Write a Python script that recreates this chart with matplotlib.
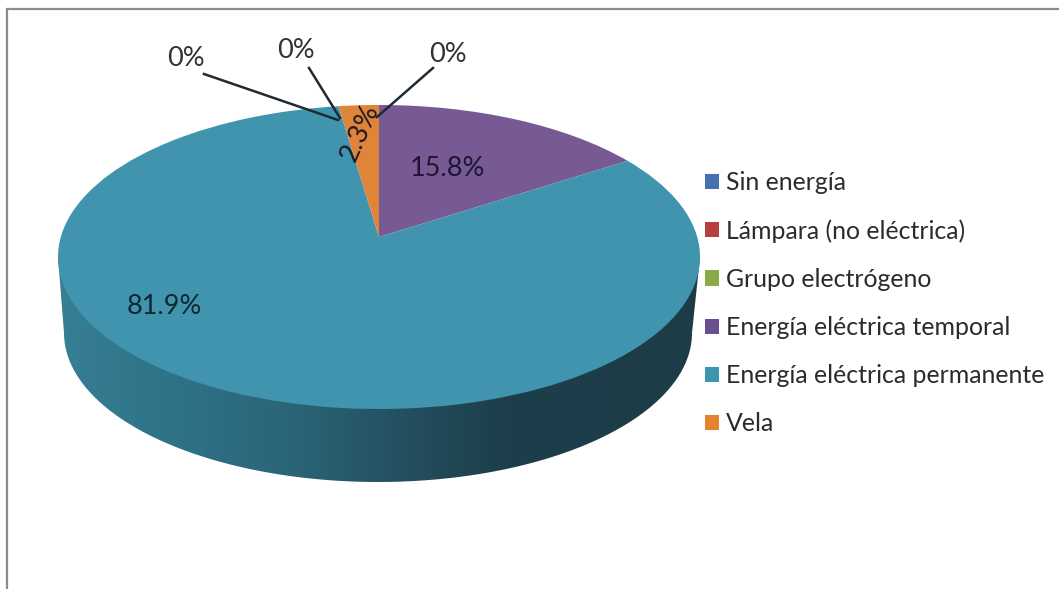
import numpy as np
import matplotlib
matplotlib.use("Agg")
import matplotlib.pyplot as plt
from matplotlib.colors import LinearSegmentedColormap
from matplotlib.patches import PathPatch
from matplotlib.path import Path
from matplotlib.transforms import Transform

categories = ["Sin energía", "Lámpara (no eléctrica)", "Grupo electrógeno",
              "Energía eléctrica temporal", "Energía eléctrica permanente", "Vela"]
values = [0, 0, 0, 15.8, 81.9, 2.3]
colors = ["#4472B0", "#B5403C", "#8AAA45", "#775A94", "#4094AE", "#E0843A"]
legend_colors = ["#4472B0", "#B5403C", "#8AAA45", "#6A4F8F", "#3B97AE", "#E5842F"]
value_labels = ["15.8%", "81.9%", "2.3%"]
zero_labels = ["0%", "0%", "0%"]

plt.rcParams["font.family"] = ["Lato", "DejaVu Sans"]

W, H = 1059, 589
fig = plt.figure(figsize=(W / 100, H / 100), dpi=100, facecolor="white")
ax = fig.add_axes([0, 0, 1, 1])


class Perspective(Transform):
    """Tilted-disc projection from the pie's unit circle to the canvas."""
    input_dims = 2
    output_dims = 2
    is_separable = False
    has_inverse = False

    def __init__(self, cx, cy, a, b, k):
        super().__init__()
        self.cx, self.cy, self.a, self.b, self.k = cx, cy, a, b, k

    def transform_non_affine(self, values):
        xy = np.asarray(values, dtype=float)
        w = 1 + self.k * xy[:, 1]
        return np.column_stack((self.cx + self.a * xy[:, 0] / w,
                                self.cy - self.b * xy[:, 1] / w))


proj = Perspective(379, 237, 318.2, 149.4, 0.1316)

wedges, _ = ax.pie(values, colors=colors, startangle=90, counterclock=False,
                   wedgeprops={"linewidth": 0})
for w in wedges:
    w.set_transform(proj + ax.transData)
    w.set_zorder(3)

# side wall of the disc, shaded left to right
t = np.linspace(np.pi, 0, 200)
bx = 378 + 314 * np.cos(t)
by = 333 + 149 * np.sin(t)
sx = np.r_[58, bx, 700]
sy = np.r_[257, by, 257]
wall = PathPatch(Path(np.column_stack((sx, sy))), transform=ax.transData,
                 facecolor="none", edgecolor="none")
ax.add_patch(wall)
cmap = LinearSegmentedColormap.from_list(
    "wall",
    [(0.0, "#377F95"), (0.13, "#30768B"), (0.36, "#2B6578"),
     (0.55, "#234E5E"), (0.70, "#1D3E4B"), (1.0, "#1C3C47")])
img = ax.imshow(np.linspace(0, 1, 256)[None, :], cmap=cmap, aspect="auto",
                extent=(58, 700, 482, 257), zorder=2, interpolation="bilinear")
img.set_clip_path(wall)

ax.set_aspect("auto")
ax.set_xlim(0, W)
ax.set_ylim(H, 0)
ax.axis("off")

# frame of the chart area (open at right and bottom)
ax.plot([6.5, 6.5, W], [H, 8.5, 8.5], color="#8C8C8C", lw=1.6,
        solid_joinstyle="miter", zorder=1)

# data labels
fs = 19.5
ax.text(447, 169, value_labels[0], ha="center", va="center", fontsize=fs,
        color="#1E1433", zorder=6)
ax.text(164, 306, value_labels[1], ha="center", va="center", fontsize=fs,
        color="#0F2733", zorder=6)
ax.text(360, 133, value_labels[2], ha="center", va="center", fontsize=fs,
        rotation=66, color="#1A1A26", zorder=6)

for label, tx, ty, x0, y0, x1, y1 in [
    (zero_labels[0], 186, 58, 204, 74, 338, 120),
    (zero_labels[1], 296, 50, 309, 68, 340, 118),
    (zero_labels[2], 448, 54, 433, 68, 377, 117),
]:
    ax.text(tx, ty, label, ha="center", va="center", fontsize=fs,
            color="#333333", zorder=6)
    ax.plot([x0, x1], [y0, y1], color="#1F2A33", lw=1.8, zorder=5)

# legend
proxies = [plt.Rectangle((0, 0), 1, 1, facecolor=c, edgecolor="none") for c in legend_colors]
leg = ax.legend(proxies, categories, loc="upper left",
                bbox_to_anchor=(705, 171), bbox_transform=ax.transData,
                frameon=False, fontsize=17.9, handlelength=0.56, handleheight=0.56,
                handletextpad=0.3, labelspacing=1.01, borderpad=0, borderaxespad=0,
                labelcolor="#2B2B2B")

fig.savefig("out.png", dpi=100)
